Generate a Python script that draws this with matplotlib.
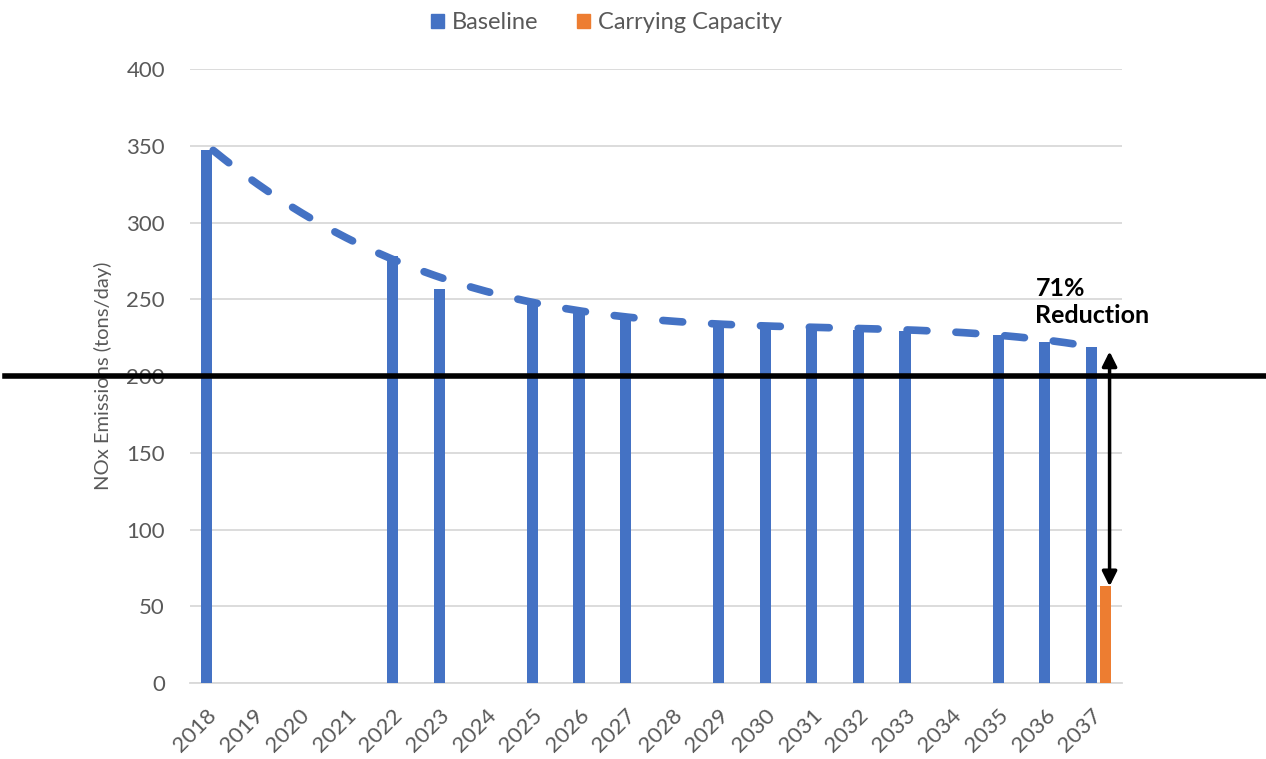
import numpy as np
import matplotlib
matplotlib.use("Agg")
import matplotlib.pyplot as plt
from matplotlib.patches import Patch

plt.rcParams['font.family'] = ['Lato', 'DejaVu Sans']

# data
years = [str(y) for y in range(2018, 2038)]
baseline = [347, np.nan, np.nan, np.nan, 278, 257, np.nan, 247, 244, 238,
            np.nan, 235, 232, 232, 230, 229, np.nan, 227, 222, 219]
carrying = [np.nan] * 19 + [63]
reduction_label = "71%\nReduction"
limit = 200
trend_order = 3

blue = '#4472C4'
orange = '#ED7D31'
grey = '#595959'

fig = plt.figure(figsize=(12.66, 7.59), dpi=100)
ax = fig.add_axes([0.150, 0.1001, 0.736, 0.809])

x = np.arange(len(years))
base = np.array(baseline, dtype=float)
carr = np.array(carrying, dtype=float)

ax.bar(x - 0.15, base, width=0.24, color=blue, zorder=3)
ax.bar(x + 0.15, carr, width=0.24, color=orange, zorder=3)

# dashed polynomial trendline of the baseline series
ok = ~np.isnan(base)
coef = np.polyfit(x[ok], base[ok], trend_order)
xt = np.linspace(x[0], x[-1], 400)
ax.plot(xt, np.polyval(coef, xt), color=blue, lw=5.5, dashes=(2.6, 3.8),
        dash_capstyle='round', zorder=4)

# the 200 tons/day line, across the whole figure
ax.axhline(limit, xmin=-0.198, xmax=1.16, color='black', lw=4,
           clip_on=False, zorder=5)

# reduction arrow
ax_x = x[-1] + 0.24
ax.annotate('', xy=(ax_x, carr[-1]), xytext=(ax_x, base[-1] - 3),
            arrowprops=dict(arrowstyle='<|-|>', lw=2.5, color='black',
                            mutation_scale=22, shrinkA=0, shrinkB=0),
            zorder=6)
ax.text(x[-1] - 1.35, 248, reduction_label, ha='left', va='center',
        fontsize=18, fontweight='bold', linespacing=1.2, zorder=6)

ax.set_xlim(-0.5, len(years) - 0.5)
ax.set_ylim(0, 400)
ax.set_yticks(range(0, 401, 50))
ax.set_xticks(x)
ax.set_xticklabels(years, rotation=45, ha='right', va='center',
                   rotation_mode='anchor')
ax.tick_params(axis='both', length=0, colors=grey, labelsize=16)
ax.tick_params(axis='x', pad=21)
ax.tick_params(axis='y', pad=18)
ax.grid(axis='y', color='#D9D9D9', lw=1.3, zorder=0)
for s in ['top', 'right', 'left']:
    ax.spines[s].set_visible(False)
ax.spines['bottom'].set_color('#D9D9D9')
ax.spines['bottom'].set_linewidth(1.3)
ax.set_ylabel('NOx Emissions (tons/day)', color=grey, fontsize=14.5,
              labelpad=10)

handles = [Patch(color=blue, label='Baseline'),
           Patch(color=orange, label='Carrying Capacity')]
fig.legend(handles=handles, loc='upper center', bbox_to_anchor=(0.479, 1.012),
           ncol=2, frameon=False, fontsize=17, labelcolor=grey,
           handlelength=0.55, handleheight=0.55, columnspacing=1.6,
           handletextpad=0.35)

fig.savefig('out.png', dpi=100)
